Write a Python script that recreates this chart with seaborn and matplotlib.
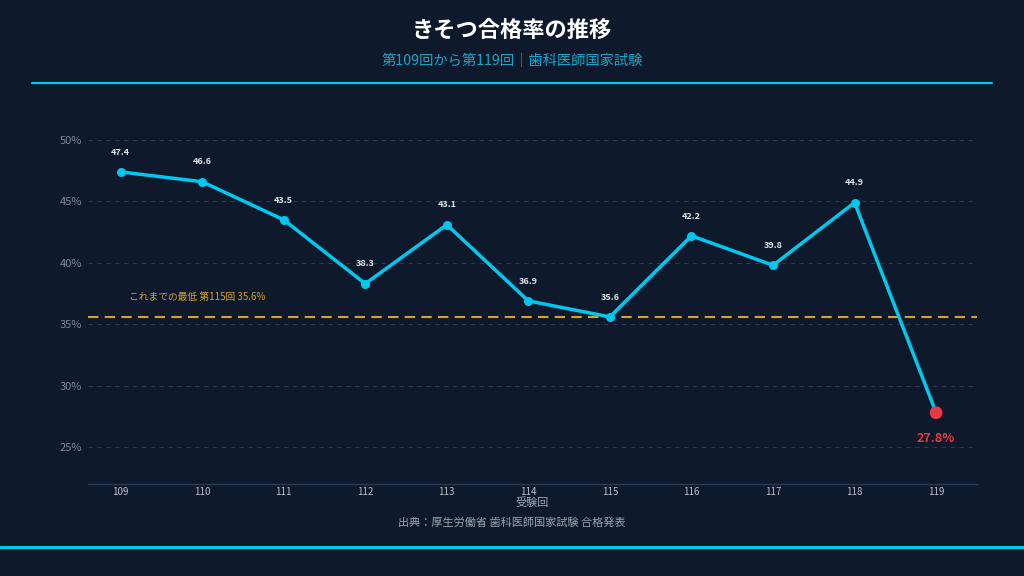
import pandas as pd
import seaborn as sns
import matplotlib.pyplot as plt
from matplotlib.lines import Line2D

# data
sessions = [109, 110, 111, 112, 113, 114, 115, 116, 117, 118, 119]
rates = [47.4, 46.6, 43.5, 38.3, 43.1, 36.9, 35.6, 42.2, 39.8, 44.9, 27.8]
yticks = [25, 30, 35, 40, 45, 50]
prev_low = 35.6
prev_low_label = 'これまでの最低 第115回 35.6%'

df = pd.DataFrame({'session': sessions, 'rate': rates})

bg = '#0e1a2b'
cyan = '#00c8ee'
gold = '#d9a030'
red = '#e63946'

sns.set_theme(style='dark')
plt.rcParams['font.family'] = ['Noto Sans CJK JP', 'DejaVu Sans']

fig = plt.figure(figsize=(10.24, 5.76), dpi=100, facecolor=bg)
ax = fig.add_axes([0.0859, 0.1597, 0.8681, 0.64])
ax.set_facecolor(bg)

for y in yticks:
    ax.axhline(y, color='#2a3a52', lw=0.8, ls=(0, (4, 4)), zorder=0)

ax.axhline(prev_low, color=gold, lw=1.5, ls=(0, (5, 3)), zorder=1)
ax.text(109.1, prev_low + 1.2, prev_low_label, color=gold, fontsize=7, va='bottom', ha='left')

sns.lineplot(data=df, x='session', y='rate', ax=ax, color=cyan, lw=2.5,
             marker='o', markersize=6.5, markeredgewidth=0, zorder=3)
last = df.iloc[[-1]]
sns.scatterplot(data=last, x='session', y='rate', ax=ax, color=red, s=85,
                edgecolor='none', zorder=4)

for s, r in zip(sessions[:-1], rates[:-1]):
    ax.annotate(f'{r:.1f}', (s, r), xytext=(0, 11), textcoords='offset points',
                ha='center', va='bottom', fontsize=6.5, fontweight='bold', color='#e0e4ea')
ax.annotate(f'{rates[-1]:.1f}%', (sessions[-1], rates[-1]), xytext=(0, -14),
            textcoords='offset points', ha='center', va='top', fontsize=9,
            fontweight='bold', color=red)

ax.set_xlim(108.6, 119.5)
ax.set_ylim(22, 52)
ax.set_xticks(sessions)
ax.set_xticklabels([str(s) for s in sessions], color='#b8c0ca', fontsize=7)
ax.set_yticks(yticks)
ax.set_yticklabels([f'{y}%' for y in yticks], color='#7d8a9a', fontsize=8)
ax.tick_params(axis='x', length=0, pad=2)
ax.tick_params(axis='y', length=0, pad=4)
ax.grid(False)
for side in ['top', 'right', 'left']:
    ax.spines[side].set_visible(False)
ax.spines['bottom'].set_color('#2a3a58')
ax.spines['bottom'].set_linewidth(1)
ax.set_xlabel('受験回', color='#a0a8b4', fontsize=8, labelpad=0)
ax.set_ylabel('')

fig.text(0.5, 1 - 30 / 576, 'きそつ合格率の推移', ha='center', va='center',
         color='white', fontsize=16, fontweight='bold')
fig.text(0.5, 1 - 61 / 576, '第109回から第119回｜歯科医師国家試験', ha='center', va='center',
         color='#1aa5c8', fontsize=10.3)
fig.text(0.5, 1 - 523 / 576, '出典：厚生労働省 歯科医師国家試験 合格発表', ha='center', va='center',
         color='#9aa4b0', fontsize=8)

fig.add_artist(Line2D([32 / 1024, 992 / 1024], [1 - 83 / 576] * 2, color=cyan, lw=1.6))
fig.add_artist(Line2D([0, 1], [1 - 547 / 576] * 2, color=cyan, lw=2.2))

fig.savefig('out.png', dpi=100, facecolor=bg)
